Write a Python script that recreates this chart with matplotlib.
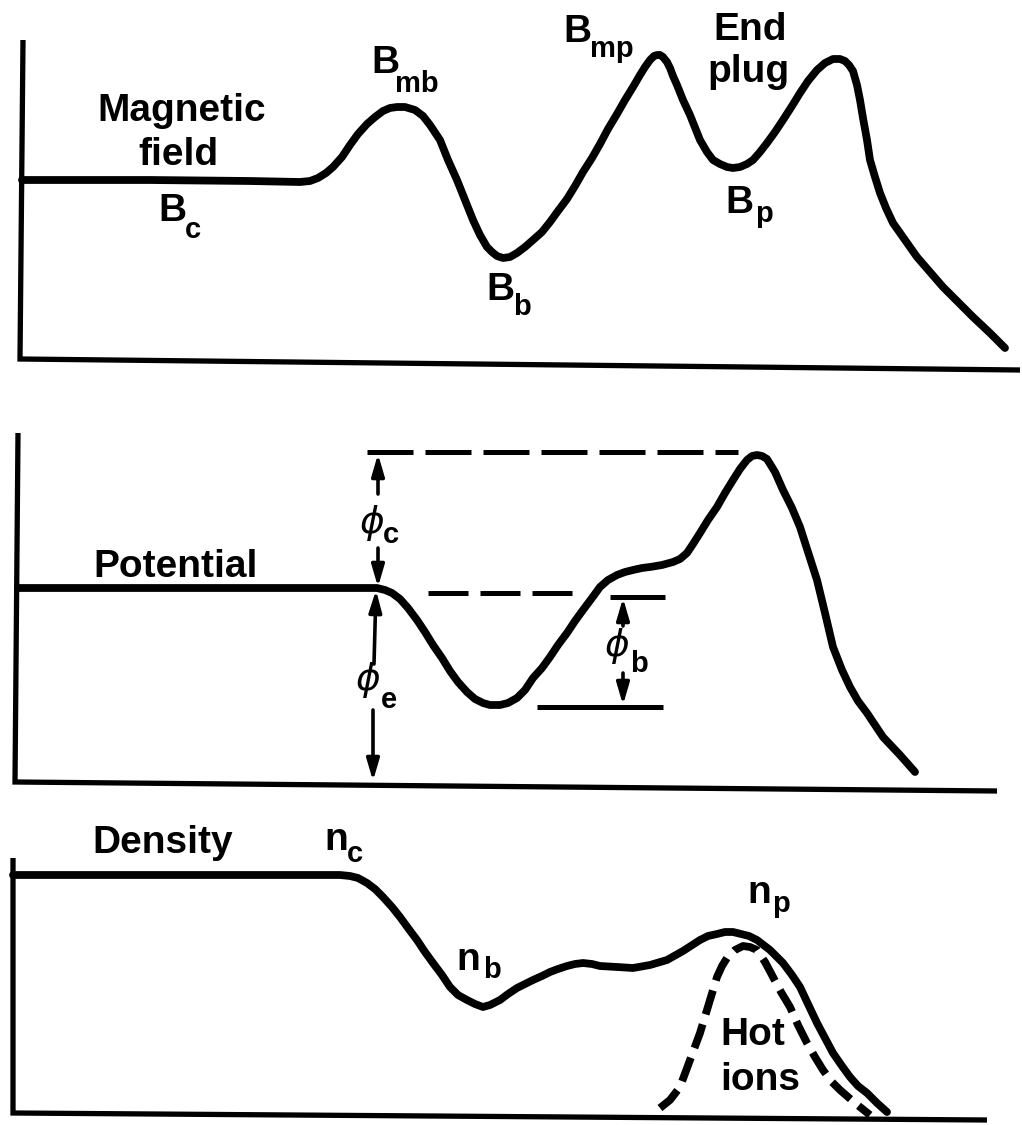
import matplotlib
matplotlib.use('Agg')
import matplotlib.pyplot as plt
from matplotlib.patches import FancyArrowPatch

plt.rcParams['lines.scale_dashes'] = False

# ---------------- data (image-pixel coordinates) ----------------
field_x = [22, 150, 250, 300, 310, 318, 326, 333, 342, 350, 358, 367, 375, 383, 390, 397,
           405, 415, 423, 430, 440, 448, 457, 465, 473, 480, 487, 492, 497, 503, 510, 517,
           525, 533, 542, 550, 558, 567, 575, 583, 592, 600, 608, 617, 625, 633, 640, 645,
           650, 654, 657, 660, 663, 667, 670, 673, 677, 683, 690, 700, 707, 713, 720, 727,
           733, 740, 747, 753, 760, 767, 775, 783, 792, 800, 808, 817, 825, 833, 840, 845,
           849, 853, 857, 860, 863, 867, 870, 875, 880, 886, 893, 905, 917, 930, 943, 958,
           973, 990, 1005]
field_y = [180, 180, 181, 182, 181, 178, 173, 167, 157, 145, 134, 124, 117, 111, 108, 107,
           107, 110, 116, 125, 140, 160, 180, 200, 220, 235, 247, 252, 256, 258, 257, 253,
           247, 240, 232, 222, 211, 199, 186, 172, 158, 144, 129, 114, 100, 87, 75, 67,
           60, 56, 55, 55, 57, 62, 68, 76, 85, 100, 115, 140, 152, 160, 164, 167,
           168, 167, 164, 160, 152, 143, 132, 120, 106, 93, 81, 70, 63, 59, 59, 61,
           65, 71, 85, 100, 118, 140, 160, 177, 193, 208, 223, 240, 257, 272, 287, 302,
           317, 333, 348]

pot_x = [18, 200, 370, 377, 385, 392, 400, 408, 417, 425, 433, 442, 450, 458, 467, 475,
         483, 490, 500, 508, 517, 525, 533, 542, 550, 558, 567, 575, 583, 592, 600, 608,
         617, 625, 633, 642, 650, 662, 673, 680, 687, 693, 700, 708, 717, 725, 733, 740,
         747, 752, 757, 762, 767, 775, 783, 792, 800, 808, 817, 825, 833, 842, 850, 858,
         867, 875, 883, 900, 915]
pot_y = [588, 588, 588, 588, 590, 593, 599, 608, 620, 632, 645, 658, 671, 682, 692, 699,
         703, 705, 705, 703, 698, 690, 678, 668, 657, 645, 633, 621, 610, 598, 587, 580,
         575, 572, 570, 568, 567, 565, 562, 559, 553, 544, 533, 520, 507, 493, 480, 469,
         460, 456, 455, 456, 459, 472, 490, 508, 527, 552, 580, 613, 647, 670, 687, 701,
         713, 725, 737, 755, 772]

dens_x = [13, 200, 340, 350, 358, 367, 375, 383, 392, 400, 408, 417, 425, 433, 442, 450,
          458, 467, 475, 483, 490, 500, 508, 517, 525, 533, 542, 550, 558, 567, 575, 583,
          592, 600, 617, 633, 650, 667, 683, 700, 708, 717, 725, 733, 741, 749, 757, 770,
          783, 792, 800, 808, 817, 825, 833, 842, 850, 858, 867, 877, 887]
dens_y = [875, 875, 875, 876, 878, 883, 889, 897, 907, 917, 928, 940, 952, 963, 975, 987,
          995, 1000, 1004, 1007, 1005, 1000, 994, 988, 984, 980, 976, 972, 969, 966, 964, 963,
          964, 966, 967, 968, 965, 960, 951, 940, 936, 934, 932, 932, 934, 936, 940, 950,
          963, 975, 987, 1004, 1023, 1038, 1053, 1066, 1077, 1086, 1093, 1103, 1112]

hot_x = [660, 670, 680, 690, 700, 710, 717, 722, 727, 735, 743, 750, 757, 765, 773, 781,
         790, 798, 807, 815, 823, 831, 840, 855, 870]
hot_y = [1108, 1100, 1087, 1060, 1033, 1000, 977, 966, 958, 950, 946, 947, 950, 962, 977,
         992, 1007, 1025, 1043, 1057, 1070, 1081, 1090, 1103, 1115]

# panel frames: (left-top, left-bottom, right-bottom)
frames = [
    [(23, 40), (20, 359), (1020, 370)],
    [(18, 433), (15, 782), (997, 791)],
    [(13, 858), (13, 1113), (987, 1120)],
]

# reference levels in the potential panel
dashed_levels = [((367, 738), 452, (46, 12)), ((428, 575), 593, (40, 12))]
solid_levels = [((610, 665), 597), ((537, 663), 707)]

# arrows: (x_tail, y_tail, x_head, y_head)
arrows = [
    (378, 494, 378, 454),
    (378, 548, 378, 587),
    (374, 664, 376, 590),
    (373, 710, 373, 781),
    (623, 626, 623, 598),
    (623, 673, 623, 705),
]

# plain labels: (text, x_left, baseline)
plain_labels = [
    ("Magnetic", 97, 121), ("field", 138, 165),
    ("End", 713, 40), ("plug", 707, 82),
    ("Potential", 93, 577),
    ("Density", 92, 853),
    ("Hot", 720, 1045), ("ions", 720, 1090),
]

# subscripted labels: (main, sub, x_main, base_main, x_sub, base_sub)
sub_labels = [
    ("B", "c", 158, 221, 185, 238),
    ("B", "mb", 371, 73, 395, 92),
    ("B", "mp", 563, 42, 590, 57),
    ("B", "b", 486, 300, 513, 315),
    ("B", "p", 725, 213, 755, 222),
    ("n", "c", 324, 850, 347, 862),
    ("n", "b", 456, 970, 483, 978),
    ("n", "p", 747, 903, 772, 912),
]

# phi labels: (sub, x_phi_center, y_center_phi, x_sub, base_sub)
phi_labels = [
    ("c", 372, 523, 383, 543),
    ("e", 368, 680, 381, 708),
    ("b", 617, 646, 630, 672),
]

# ---------------- drawing ----------------
fig = plt.figure(figsize=(10.22, 11.25), dpi=100)
ax = fig.add_axes([0, 0, 1, 1])
ax.set_xlim(0, 1022)
ax.set_ylim(1125, 0)
ax.axis('off')

K = 'black'
for fr in frames:
    xs = [p[0] for p in fr]
    ys = [p[1] for p in fr]
    ax.plot(xs, ys, color=K, lw=3.8, solid_joinstyle='miter', solid_capstyle='butt')

curve_kw = dict(color=K, lw=5.6, solid_joinstyle='round', solid_capstyle='round')
ax.plot(field_x, field_y, **curve_kw)
ax.plot(pot_x, pot_y, **curve_kw)
ax.plot(dens_x, dens_y, **curve_kw)
ax.plot(hot_x, hot_y, color=K, lw=5.6, dashes=(18, 7.5), dash_capstyle='butt',
        dash_joinstyle='round')

for (x0, x1), y, (on, off) in dashed_levels:
    ax.plot([x0, x1], [y, y], color=K, lw=3.6, dashes=(on * 0.72, off * 0.72),
            dash_capstyle='butt')
for (x0, x1), y in solid_levels:
    ax.plot([x0, x1], [y, y], color=K, lw=3.6, solid_capstyle='butt')

for xt, yt, xh, yh in arrows:
    ar = FancyArrowPatch((xt, yt), (xh, yh), arrowstyle='-|>,head_length=1.3,head_width=0.38',
                         mutation_scale=10, lw=2.6, color=K, shrinkA=0, shrinkB=0)
    ax.add_patch(ar)

FAM = ['Liberation Sans', 'DejaVu Sans']
for txt, x, y in plain_labels:
    ax.text(x, y, txt, family=FAM, fontweight='bold', fontsize=28, ha='left', va='baseline')

for m, s, xm, ym, xs_, ys_ in sub_labels:
    ax.text(xm, ym, m, family=FAM, fontweight='bold', fontsize=28, ha='left', va='baseline')
    ax.text(xs_, ys_, s, family=FAM, fontweight='bold', fontsize=21, ha='left', va='baseline')

for s, xp, yp, xs_, ys_ in phi_labels:
    ax.text(xp, yp, '\u03d5', family=['DejaVu Sans'], style='oblique', fontsize=27,
            ha='center', va='center')
    ax.text(xs_, ys_, s, family=FAM, fontweight='bold', fontsize=21, ha='left', va='baseline')

fig.savefig('out.png', dpi=100, facecolor='white')
